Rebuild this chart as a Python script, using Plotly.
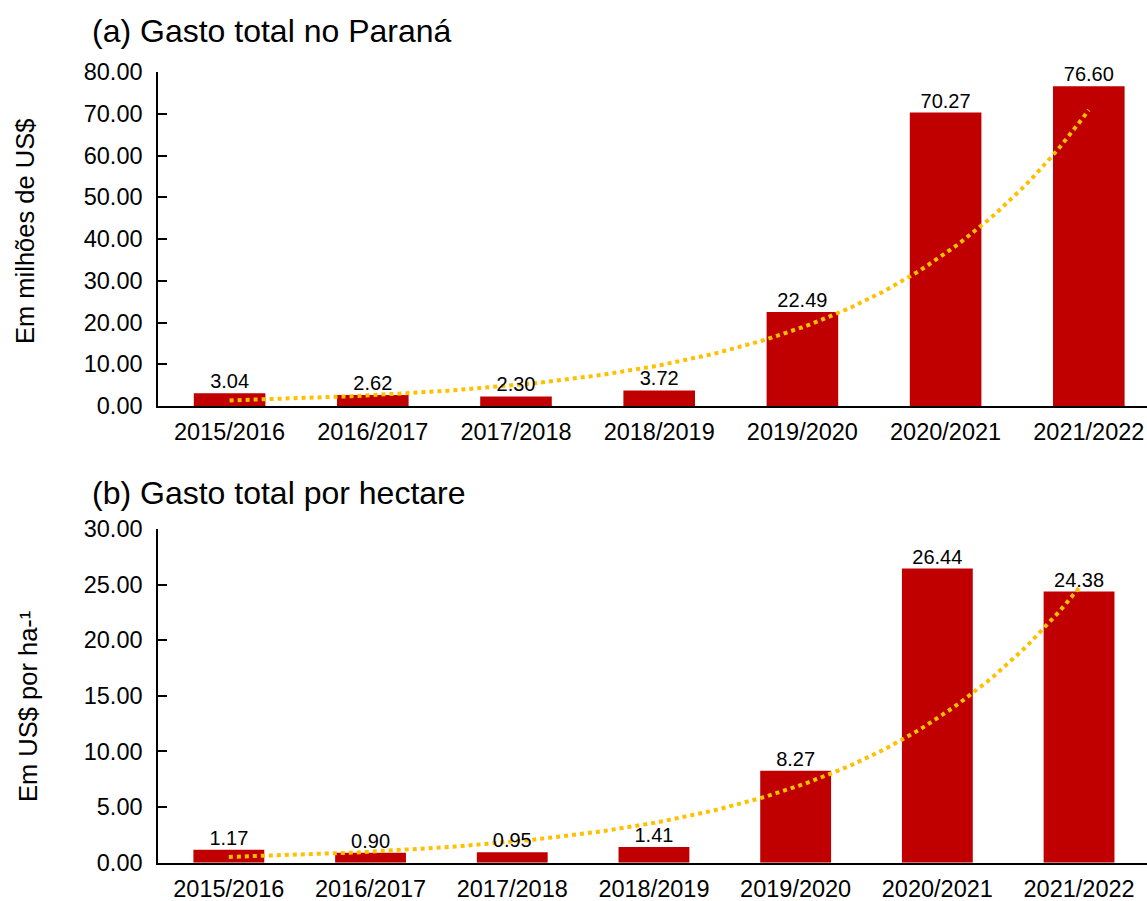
import numpy as np
import plotly.graph_objects as go

categories = ["2015/2016", "2016/2017", "2017/2018", "2018/2019", "2019/2020", "2020/2021", "2021/2022"]
gasto_total = [3.04, 2.62, 2.30, 3.72, 22.49, 70.27, 76.60]
gasto_ha = [1.17, 0.90, 0.95, 1.41, 8.27, 26.44, 24.38]

title_a = "(a) Gasto total no Paraná"
title_b = "(b) Gasto total por hectare"
ytitle_a = "Em milhões de US$"
ytitle_b = "Em US$ por ha-¹"

BAR = "#C00000"
TREND = "#FFC000"
FONT = "Arial, 'Liberation Sans', sans-serif"

W, H = 1147, 901
idx = np.arange(len(categories))


def exp_trend(vals):
    b, a = np.polyfit(idx, np.log(vals), 1)
    xs = np.linspace(0, len(vals) - 1, 121)
    return xs, np.exp(a + b * xs)


fig = go.Figure()

for vals, xa, ya in [(gasto_total, "x", "y"), (gasto_ha, "x2", "y2")]:
    fig.add_trace(go.Bar(x=idx, y=vals, marker_color=BAR, marker_line_width=0,
                         width=0.5, xaxis=xa, yaxis=ya, showlegend=False, hoverinfo="skip"))
    tx, ty = exp_trend(vals)
    fig.add_trace(go.Scatter(x=tx, y=ty, mode="lines",
                             line=dict(color=TREND, width=4, dash="dot"),
                             xaxis=xa, yaxis=ya, showlegend=False, hoverinfo="skip"))
    fig.add_trace(go.Scatter(x=idx, y=vals, mode="text",
                             text=[f"{v:.2f}" for v in vals], textposition="top center",
                             textfont=dict(family=FONT, size=20, color="black"),
                             xaxis=xa, yaxis=ya, showlegend=False, cliponaxis=False,
                             hoverinfo="skip"))

x0 = 158 / W
dom_a = [1 - 406 / H, 1 - 72 / H]
dom_b = [1 - 862.7 / H, 1 - 529 / H]

common_x = dict(tickmode="array", tickvals=list(idx), ticktext=categories,
                showline=True, linecolor="black", linewidth=1.5, ticks="",
                showgrid=False, zeroline=False, automargin=False,
                tickfont=dict(family=FONT, size=23.5, color="black"),
                ticklabelstandoff=4)
common_y = dict(showline=True, linecolor="black", linewidth=1.5, ticks="inside",
                ticklen=9, tickwidth=1.5, tickcolor="black", showgrid=False,
                zeroline=False, tickformat=".2f", automargin=False,
                tickfont=dict(family=FONT, size=23.5, color="black"),
                ticklabelstandoff=9)

fig.update_layout(
    width=W, height=H,
    margin=dict(l=0, r=0, t=0, b=0),
    paper_bgcolor="white", plot_bgcolor="white",
    font=dict(family=FONT, color="black"),
    xaxis=dict(domain=[x0, 1], range=[-0.5, -0.5 + (W - 158) / 143.2], anchor="y", **common_x),
    yaxis=dict(domain=dom_a, range=[0, 80], dtick=10, anchor="x", **common_y),
    xaxis2=dict(domain=[x0, 1], range=[-0.5, -0.5 + (W - 158) / 141.7], anchor="y2", **common_x),
    yaxis2=dict(domain=dom_b, range=[0, 30], dtick=5, anchor="x2", **common_y),
    annotations=[
        dict(text=title_a, x=90 / W, y=1 - 31 / H, xref="paper", yref="paper",
             xanchor="left", yanchor="middle", showarrow=False,
             font=dict(family=FONT, size=32, color="black")),
        dict(text=title_b, x=90 / W, y=1 - 493 / H, xref="paper", yref="paper",
             xanchor="left", yanchor="middle", showarrow=False,
             font=dict(family=FONT, size=32, color="black")),
        dict(text=ytitle_a, x=25 / W, y=1 - 232 / H, xref="paper", yref="paper",
             xanchor="center", yanchor="middle", showarrow=False, textangle=-90,
             font=dict(family=FONT, size=25.5, color="black")),
        dict(text=ytitle_b, x=28 / W, y=1 - 707 / H, xref="paper", yref="paper",
             xanchor="center", yanchor="middle", showarrow=False, textangle=-90,
             font=dict(family=FONT, size=25.5, color="black")),
    ],
)

fig.write_html("out.html", config={"displayModeBar": False},
               post_script="document.body.style.margin='0';document.body.style.overflow='hidden';")
